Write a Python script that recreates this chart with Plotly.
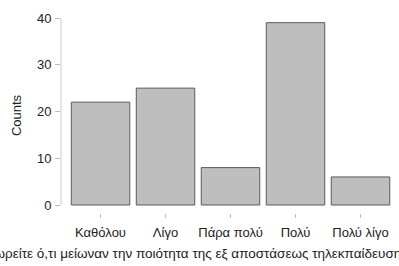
import plotly.graph_objects as go

categories = ["Καθόλου", "Λίγο", "Πάρα πολύ", "Πολύ", "Πολύ λίγο"]
counts = [22, 25, 8, 39, 6]
y_ticks = [0, 10, 20, 30, 40]
x_title = "Θεωρείτε ό,τι μείωναν την ποιότητα της εξ αποστάσεως τηλεκπαίδευσης"
y_title = "Counts"

fig = go.Figure(go.Bar(
    x=list(range(len(categories))), y=counts, width=0.9,
    marker=dict(color="#bebebe", line=dict(color="#5a5a5a", width=1)),
))

font = dict(family="Liberation Sans, Arial, sans-serif", color="#222", size=13)
fig.update_layout(
    width=399, height=266,
    margin=dict(l=61, r=6, t=18, b=53, autoexpand=False),
    plot_bgcolor="white", paper_bgcolor="white",
    font=font, showlegend=False,
    xaxis=dict(range=[-0.608, 4.5], tickvals=list(range(len(categories))),
               ticktext=categories, ticks="outside", ticklen=4, tickcolor="#bbb",
               tickfont=dict(size=13), automargin=False, ticklabelstandoff=3,
               showgrid=False, zeroline=False, showline=False),
    yaxis=dict(range=[-1.71, 40.0], tickvals=y_ticks, ticks="outside",
               ticklen=5, tickcolor="#bbb", showgrid=False, zeroline=False,
               showline=False, automargin=False, ticklabelstandoff=1,
               title=dict(text=y_title, standoff=12, font=dict(size=13))),
)
fig.add_shape(type="line", xref="paper", yref="y", x0=0, x1=0, y0=0, y1=40,
              line=dict(color="#ccc", width=1))
fig.add_annotation(text=x_title, xref="paper", yref="paper",
                   x=(193 - 61) / 332, y=0, yshift=-40, xanchor="center",
                   yanchor="middle", showarrow=False, font=dict(size=13.5))
fig.write_html("out.html", config={"displayModeBar": False},
               post_script="document.body.style.margin='0';")
